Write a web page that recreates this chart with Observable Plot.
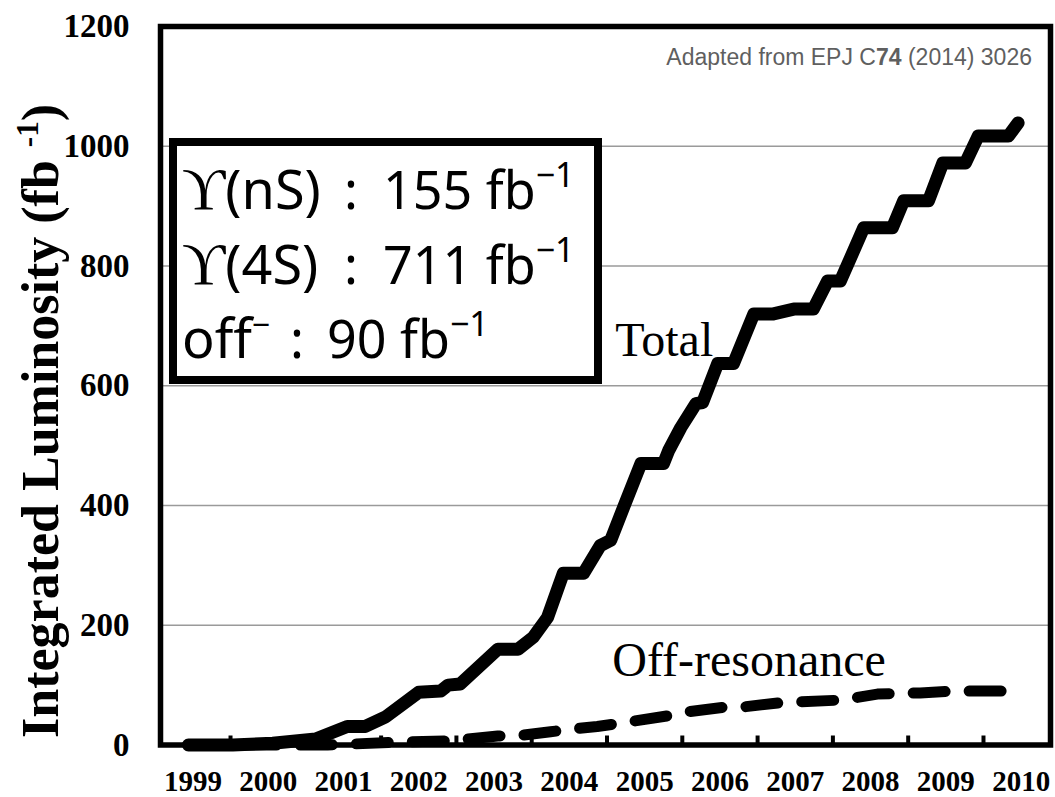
<!DOCTYPE html>
<html>
<head>
<meta charset="utf-8">
<script src="https://cdn.jsdelivr.net/npm/d3@7"></script>
<script src="https://cdn.jsdelivr.net/npm/@observablehq/plot@0.6"></script>
<style>
  html, body { margin: 0; padding: 0; background: #fff; }
  #chart svg { display: block; }
</style>
</head>
<body>
<div id="chart"></div>
<script>
// Belle integrated luminosity, cumulative (fb^-1) against calendar year
const totalYear = [1999.44, 2000.03, 2000.56, 2001.13, 2001.55, 2001.79, 2002.06, 2002.50, 2002.79, 2002.89,
  2003.05, 2003.55, 2003.82, 2004.02, 2004.21, 2004.42, 2004.69, 2004.91, 2005.05, 2005.22,
  2005.45, 2005.75, 2005.82, 2005.98, 2006.18, 2006.27, 2006.47, 2006.68, 2006.95, 2007.21,
  2007.48, 2007.74, 2007.93, 2008.10, 2008.41, 2008.79, 2008.94, 2009.27, 2009.46, 2009.76,
  2009.93, 2010.33, 2010.46];
const totalLumi = [0, 0, 3, 10, 31, 31, 47, 88, 90, 100,
  102, 160, 160, 180, 213, 287, 287, 333, 342, 397,
  470, 470, 492, 530, 570, 572, 637, 637, 720, 720,
  728, 728, 775, 775, 864, 864, 909, 909, 972, 972,
  1017, 1017, 1039];

const offYear = [1999.44, 2001.29, 2002.30, 2002.92, 2003.55, 2003.85, 2004.25, 2004.42, 2004.87, 2005.21,
  2005.82, 2005.98, 2006.55, 2006.77, 2007.33, 2007.53, 2008.10, 2008.30, 2008.59, 2009.16,
  2009.60, 2010.16, 2010.40];
const offLumi = [0, 0, 5, 7, 15, 16, 22, 25, 31, 37,
  49, 54, 63, 63, 71, 72, 75, 79, 85, 87,
  90, 90, 90];

const yearLabels = ["1999", "2000", "2001", "2002", "2003", "2004", "2005", "2006", "2007", "2008", "2009", "2010"];
const yTicks = [0, 200, 400, 600, 800, 1000, 1200];

// summary box: sample, luminosity
const boxHead = ["ϒ(nS)", "ϒ(4S)", "off"];
const boxHeadSup = ["", "", "−"];
const boxValue = ["155", "711", "90"];

const total = totalYear.map((x, i) => ({x, y: totalLumi[i]}));
const offres = offYear.map((x, i) => ({x, y: offLumi[i]}));
const yearBounds = yearLabels.slice(1).map(Number);

const serif = "'Liberation Serif', 'Times New Roman', Times, serif";
const sans = "'Noto Sans', 'Open Sans', sans-serif";
const W = 1055, H = 797, mL = 160, mR = 5, mT = 26, mB = 52.5;

const chart = Plot.plot({
  width: W, height: H,
  marginLeft: mL, marginRight: mR, marginTop: mT, marginBottom: mB,
  style: {background: "#fff", color: "#000", overflow: "visible"},
  x: {domain: [1999.07, 2010.89], axis: null},
  y: {domain: [0, 1200], axis: null},
  marks: [
    Plot.gridY(yTicks.filter(v => v > 0 && v < 1200), {stroke: "#9a9a9a", strokeOpacity: 1, strokeWidth: 1.3}),
    Plot.line(offres, {x: "x", y: "y", stroke: "#000", strokeWidth: 11, strokeDasharray: "32,24",
      strokeLinecap: "round", strokeLinejoin: "round"}),
    Plot.line(total, {x: "x", y: "y", stroke: "#000", strokeWidth: 13,
      strokeLinecap: "round", strokeLinejoin: "round"}),
    Plot.tickX(yearBounds, {x: d => d, stroke: "#000", strokeWidth: 4, insetTop: H - mT - mB - 9}),
    Plot.frame({stroke: "#000", strokeWidth: 5.5}),
    Plot.axisY(yTicks, {tickSize: 0, tickPadding: 31, tickFormat: d => String(d), fontSize: 33,
      fontWeight: "bold", fontFamily: serif, label: null}),
    Plot.axisX(yearLabels.map(d => +d + 0.5), {tickSize: 0, tickPadding: 25,
      tickFormat: d => String(Math.floor(d)), fontSize: 29, fontWeight: "bold",
      fontFamily: serif, label: null}),
    Plot.text(["Total"], {x: 2005.11, y: 650, text: d => d, textAnchor: "start", lineAnchor: "bottom",
      fontSize: 48, fontFamily: serif, fill: "#000"}),
    Plot.text(["Off-resonance"], {x: 2005.07, y: 116, text: d => d, textAnchor: "start", lineAnchor: "bottom",
      fontSize: 48, fontFamily: serif, fill: "#000"})
  ]
});

document.getElementById("chart").appendChild(chart);
const svg = d3.select(chart);

// rotated y-axis title with superscript
const yt = svg.append("text")
  .attr("transform", "translate(58,421) rotate(-90)")
  .attr("text-anchor", "middle")
  .attr("font-family", serif).attr("font-weight", "bold")
  .attr("font-size", 52).attr("fill", "#000");
yt.append("tspan").text("Integrated Luminosity (fb ");
yt.append("tspan").attr("font-size", 31).attr("dy", -20).text("-1");
yt.append("tspan").attr("dy", 20).text(")");

// source note, top right
const src = svg.append("text")
  .attr("x", 1032).attr("y", 65).attr("text-anchor", "end")
  .attr("font-family", "'Liberation Sans', Arial, Helvetica, sans-serif")
  .attr("font-size", 23).attr("fill", "#5f5f5f");
src.append("tspan").text("Adapted from EPJ C");
src.append("tspan").attr("font-weight", "bold").text("74");
src.append("tspan").text(" (2014) 3026");

// summary box
const colonX = [344, 344, 290];
const valueX = [383, 383, 327];
const box = svg.append("g").attr("text-anchor", "start");
box.append("rect")
  .attr("x", 173).attr("y", 142).attr("width", 425).attr("height", 238)
  .attr("fill", "#fff").attr("stroke", "#000").attr("stroke-width", 8);
boxHead.forEach((h, i) => {
  const y = 209 + i * 74.5;
  const head = box.append("text")
    .attr("x", 182).attr("y", y).attr("text-anchor", "start")
    .attr("font-family", sans).attr("font-size", 54).attr("fill", "#000");
  if (h.startsWith("ϒ")) {
    head.append("tspan").attr("font-family", serif).attr("font-size", 60).text("ϒ");
    head.append("tspan").text(h.slice(1));
  } else {
    head.append("tspan").text(h);
  }
  if (boxHeadSup[i]) head.append("tspan").attr("font-size", 32).attr("dy", -22).text(boxHeadSup[i]);
  box.append("text")
    .attr("x", colonX[i]).attr("y", y).attr("text-anchor", "start")
    .attr("font-family", sans).attr("font-size", 52).attr("fill", "#000").text(":");
  const val = box.append("text")
    .attr("x", valueX[i]).attr("y", y).attr("text-anchor", "start")
    .attr("font-family", sans).attr("font-size", 52).attr("fill", "#000");
  val.append("tspan").text(boxValue[i] + " fb");
  val.append("tspan").attr("font-size", 34).attr("dy", -22).text("−1");
});
</script>
</body>
</html>
